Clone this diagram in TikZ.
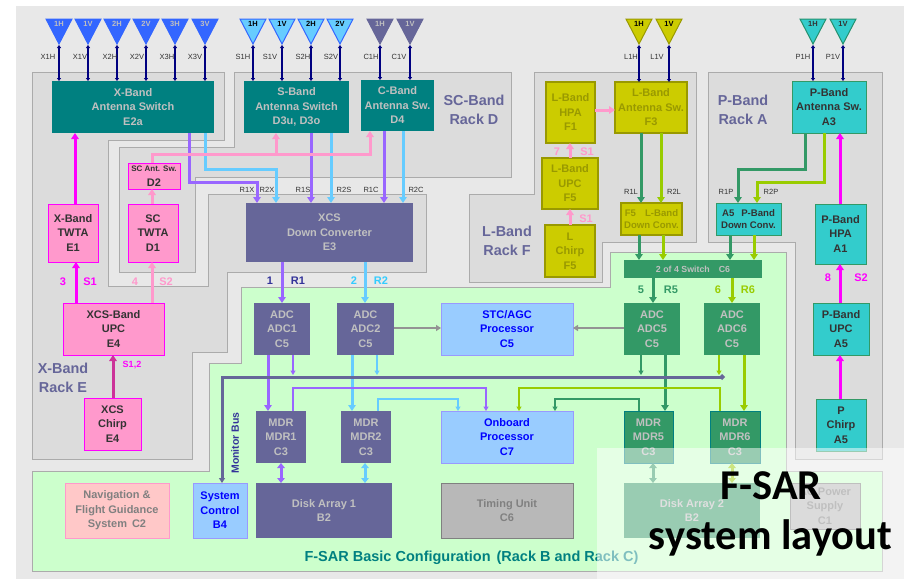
\documentclass[tikz,border=0pt]{standalone}
\usepackage{fontspec}
\setmainfont{Liberation Sans}
\newfontfamily\titlefont{Carlito}
\usetikzlibrary{arrows.meta}
\definecolor{cbg}{HTML}{E8E8E8}
\definecolor{crack}{HTML}{DCDCDC}
\definecolor{crackb}{HTML}{ABABAB}
\definecolor{cgreen}{HTML}{CCFFCC}
\definecolor{cteal}{HTML}{008080}
\definecolor{cgraytxt}{HTML}{C0C0C0}
\definecolor{cdark}{HTML}{333333}
\definecolor{cpink}{HTML}{FF99CC}
\definecolor{cmag}{HTML}{FF00FF}
\definecolor{cviolet}{HTML}{666699}
\definecolor{cpurp}{HTML}{9966FF}
\definecolor{ccyan}{HTML}{66CCFF}
\definecolor{cgrn}{HTML}{339966}
\definecolor{clime}{HTML}{99CC00}
\definecolor{colive}{HTML}{CCCC00}
\definecolor{coliveb}{HTML}{999900}
\definecolor{ctq}{HTML}{33CCCC}
\definecolor{cblue}{HTML}{99CCFF}
\definecolor{cblueb}{HTML}{9999FF}
\definecolor{cdeep}{HTML}{0000FF}
\definecolor{cantx}{HTML}{3366FF}
\definecolor{cgrayb}{HTML}{B8B8B8}
\definecolor{cgrayd}{HTML}{808080}
\definecolor{csalmon}{HTML}{FFC8C8}
\definecolor{cnavy}{HTML}{000080}
\definecolor{cchirp}{HTML}{CC3399}
\definecolor{cindigo}{HTML}{333399}
\definecolor{cskylab}{HTML}{33CCFF}
\tikzset{
  x=1pt,y=-1pt,
  boxbase/.style={inner sep=0pt,outer sep=0pt,align=center,font=\bfseries\fontsize{11}{14.5}\selectfont},
  tealbox/.style={boxbase,fill=cteal,text=cgraytxt},
  pinkbox/.style={boxbase,fill=cpink,draw=cmag,line width=1pt,text=cdark},
  olivebox/.style={boxbase,fill=colive,draw=coliveb,line width=1.2pt,text=coliveb},
  tqbox/.style={boxbase,fill=ctq,draw=cgrn,line width=1pt,text=cdark},
  violetbox/.style={boxbase,fill=cviolet,text=cgraytxt},
  grnbox/.style={boxbase,fill=cgrn,text=cgraytxt},
  grntealbox/.style={boxbase,fill=cgrn,draw=cteal,line width=.8pt,text=cgraytxt},
  bluebox/.style={boxbase,fill=cblue,draw=cblueb,line width=1pt,text=cdeep},
  graybox/.style={boxbase,fill=cgrayb,draw=cgrayd,line width=1pt,text=cgrayd},
  navbox/.style={boxbase,fill=csalmon,draw=cpink,line width=1pt,text=cgrayd},
  smallbox/.style={font=\bfseries\fontsize{9.6}{12}\selectfont},
  rack/.style={fill=crack,draw=crackb,line width=1pt},
  greenarea/.style={fill=cgreen,draw=crackb,line width=1pt},
  racklabel/.style={font=\bfseries\fontsize{14.4}{19}\selectfont,text=cviolet,align=center,inner sep=0pt},
  portlabel/.style={font=\fontsize{7.5}{9}\selectfont,text=cdark,inner sep=0pt},
  chanlabel/.style={font=\bfseries\fontsize{11}{13}\selectfont,inner sep=0pt},
  thick arrow/.style={line width=3pt,-{Triangle[length=6pt,width=7.5pt]}},
  thin arrow/.style={line width=1.6pt,-{Triangle[length=4.5pt,width=5pt]}},
  bi arrow/.style={line width=3pt,{Triangle[length=5pt,width=7.5pt]}-{Triangle[length=5pt,width=7.5pt]}},
  ant arrow/.style={line width=1.5pt,draw=cnavy,{Triangle[length=3pt,width=4pt]}-{Triangle[length=3pt,width=4pt]}},
  gray arrow/.style={line width=1.5pt,draw=cgrayd!85,-{Triangle[length=5pt,width=6pt]}},
}
% name, x1, y1, x2, y2, style, text
\newcommand\bx[7]{\node[#6,minimum width={#4-#2},minimum height={#5-#3}] (#1) at ({(#2+#4)/2},{(#3+#5)/2}) {#7};}
% name, centre x, fill, border, text colour, label
\newcommand\ant[6]{%
  \path[fill=#3,draw=#4,line width=1pt,line join=miter] (#2-13,19) -- (#2+13,19) -- (#2,44) -- cycle;
  \coordinate (#1) at (#2,45);
  \node[font=\bfseries\fontsize{7.5}{9}\selectfont,text=#5,inner sep=0pt] (#1t) at (#2,24) {#6};}
\newcommand\pl[3]{\node[portlabel] (pl#1) at (#2,#3) {#1};}
\begin{document}
\begin{tikzpicture}
\useasboundingbox (0,0) rectangle (904,579);
\fill[white] (0,0) rectangle (904,579);
\fill[cbg] (16,6) rectangle (904,579);
% racks
\path[rack] (32,72)--(224,72)--(224,140)--(108,140)--(108,286)--(208,286)--(208,194)--(426,194)--(426,272)--(227,272)--(227,352)--(192,352)--(192,459)--(32,459)--cycle;
\path[rack] (234,72)--(511,72)--(511,177)--(195,177)--(195,272)--(119,272)--(119,147)--(234,147)--cycle;
\path[rack] (534,72)--(696,72)--(696,242)--(602,242)--(602,282)--(469,282)--(469,194)--(534,194)--cycle;
\path[rack] (708,72)--(882,72)--(882,459)--(795,459)--(795,242)--(708,242)--cycle;
\path[greenarea] (241,287)--(610,287)--(610,252)--(786,252)--(786,471)--(882,471)--(882,571)--(32,571)--(32,471)--(209,471)--(209,363)--(241,363)--cycle;
% antennas
\ant{xa}{59}{cantx}{cantx}{cgraytxt}{1H}
\ant{xb}{88}{cantx}{cantx}{cgraytxt}{1V}
\ant{xc}{117}{cantx}{cantx}{cgraytxt}{2H}
\ant{xd}{146}{cantx}{cantx}{cgraytxt}{2V}
\ant{xe}{175}{cantx}{cantx}{cgraytxt}{3H}
\ant{xf}{205}{cantx}{cantx}{cgraytxt}{3V}
\ant{sa}{253}{ccyan}{cantx}{black}{1H}
\ant{sb}{282}{ccyan}{cantx}{black}{1V}
\ant{sc}{311}{ccyan}{cantx}{black}{2H}
\ant{sd}{340}{ccyan}{cantx}{black}{2V}
\ant{ca}{380}{cviolet}{cviolet}{cgraytxt}{1H}
\ant{cb}{410}{cviolet}{cviolet}{cgraytxt}{1V}
\ant{la}{639}{colive}{coliveb}{black}{1H}
\ant{lb}{669}{colive}{coliveb}{black}{1V}
\ant{pa}{813}{ctq}{cgrn!70!cteal}{cdark}{1H}
\ant{pb}{843}{ctq}{cgrn!70!cteal}{cdark}{1V}
% boxes
\bx{e2a}{52}{81}{214}{133}{tealbox}{X-Band\\Antenna Switch\\E2a}
\bx{d3}{244}{81}{349}{133}{tealbox}{S-Band\\Antenna Switch\\D3u, D3o}
\bx{d4}{361}{80}{434}{131}{tealbox}{C-Band\\Antenna Sw.\\D4}
\bx{d2}{128}{163}{180}{189}{pinkbox}{{\fontsize{8}{10}\selectfont SC Ant. Sw.}\\{\fontsize{11}{12}\selectfont D2}}
\bx{e1}{48}{204}{98}{262}{pinkbox}{X-Band\\TWTA\\E1}
\bx{d1}{128}{204}{178}{262}{pinkbox}{SC\\TWTA\\D1}
\bx{e4}{63}{303}{164}{355}{pinkbox}{XCS-Band\\UPC\\E4}
\bx{chirp}{84}{398}{141}{450}{pinkbox}{XCS\\Chirp\\E4}
\bx{e3}{246}{203}{413}{262}{violetbox}{XCS\\Down Converter\\E3}
\bx{f1}{546}{82}{595}{143}{olivebox}{L-Band\\HPA\\F1}
\bx{f3}{615}{82}{687}{133}{olivebox}{L-Band\\Antenna Sw.\\F3}
\bx{f5u}{542}{158}{598}{209}{olivebox}{L-Band\\UPC\\F5}
\bx{f5c}{545}{225}{595}{277}{olivebox}{L\\Chirp\\F5}
\bx{f5d}{621}{203}{682}{235}{olivebox,smallbox}{F5\hspace{9pt}L-Band\\Down Conv.}
\bx{a3}{792}{81}{866}{133}{tqbox}{P-Band\\Antenna Sw.\\A3}
\bx{a5d}{716}{203}{781}{235}{tqbox,smallbox}{A5\hspace{7pt}P-Band\\Down Conv.}
\bx{a1}{815}{204}{866}{264}{tqbox}{P-Band\\HPA\\A1}
\bx{a5u}{813}{303}{869}{355}{tqbox}{P-Band\\UPC\\A5}
\bx{a5c}{816}{399}{866}{451}{tqbox}{P\\Chirp\\A5}
\bx{sw}{624}{260}{762}{278}{grnbox,font=\bfseries\fontsize{8.8}{10}\selectfont}{2 of 4 Switch\hspace{9pt}C6}
\bx{adc1}{254}{303}{310}{355}{violetbox}{ADC\\ADC1\\C5}
\bx{adc2}{337}{303}{394}{355}{violetbox}{ADC\\ADC2\\C5}
\bx{stc}{441}{303}{573}{355}{bluebox}{STC/AGC\\Processor\\C5}
\bx{adc5}{624}{303}{680}{355}{grnbox}{ADC\\ADC5\\C5}
\bx{adc6}{704}{303}{760}{355}{grnbox}{ADC\\ADC6\\C5}
\bx{mdr1}{256}{411}{306}{463}{violetbox}{MDR\\MDR1\\C3}
\bx{mdr2}{341}{411}{391}{463}{violetbox}{MDR\\MDR2\\C3}
\bx{obp}{441}{411}{573}{463}{bluebox}{Onboard\\Processor\\C7}
\bx{mdr5}{624}{411}{673}{463}{grntealbox}{MDR\\MDR5\\C3}
\bx{mdr6}{710}{411}{760}{463}{grntealbox}{MDR\\MDR6\\C3}
\bx{nav}{65}{483}{169}{538}{navbox}{Navigation \&\\Flight Guidance\\System\hspace{5pt}C2}
\bx{sys}{193}{483}{247}{538}{bluebox}{System\\Control\\B4}
\bx{disk1}{256}{483}{392}{538}{violetbox}{Disk Array 1\\B2}
\bx{tim}{441}{483}{573}{538}{graybox}{Timing Unit\\C6}
\bx{disk2}{624}{483}{760}{538}{grnbox}{Disk Array 2\\B2}
\bx{pow}{790}{483}{860}{529}{graybox}{\rule{0pt}{0pt}\\[-6.5pt]AC Power\\Supply\\C1}
% antenna lines
\foreach \a/\b in {xa/e2a,xb/e2a,xc/e2a,xd/e2a,xe/e2a,xf/e2a,sa/d3,sb/d3,sc/d3,sd/d3,ca/d4,cb/d4,la/f3,lb/f3,pa/a3,pb/a3}
  \draw[ant arrow] (\a) -- (\a |- \b.north);
% X band receive
\draw[thick arrow,cpurp] (189,0 |- e2a.south) -- (189,182) -- (257,182) -- (257,0 |- e3.north);
\draw[thick arrow,ccyan] (205,0 |- e2a.south) -- (205,169) -- (276,169) -- (276,0 |- e3.north);
\draw[thick arrow,cpurp] (311,0 |- d3.south) -- (311,0 |- e3.north);
\draw[thick arrow,ccyan] (331,0 |- d3.south) -- (331,0 |- e3.north);
\draw[thick arrow,cpurp] (384,0 |- d4.south) -- (384,0 |- e3.north);
\draw[thick arrow,ccyan] (403,0 |- d4.south) -- (403,0 |- e3.north);
% transmit chain X / SC
\draw[thick arrow,cmag] (75,0 |- e1.north) -- (75,0 |- e2a.south);
\draw[thick arrow,cmag] (76,0 |- e4.north) -- (76,0 |- e1.south);
\draw[thick arrow,cpink] (152,0 |- e4.north) -- (152,0 |- d1.south);
\draw[thick arrow,cpink] (152,0 |- d1.north) -- (152,0 |- d2.south);
\draw[thick arrow,cchirp] (113,0 |- chirp.north) -- (113,0 |- e4.south);
\draw[thick arrow,cpink] (152,0 |- d2.north) -- (152,154) -- (370,154) -- (370,0 |- d4.south);
\draw[thick arrow,cpink] (276,154) -- (276,0 |- d3.south);
% L band
\draw[thick arrow,cpink] (570,0 |- f5c.north) -- (570,0 |- f5u.south);
\draw[thick arrow,cpink] (570,0 |- f5u.north) -- (570,0 |- f1.south);
\draw[thick arrow,cpink] (f1.east |- 0,110) -- (f3.west |- 0,110);
\draw[thick arrow,cgrn] (641,0 |- f3.south) -- (641,0 |- f5d.north);
\draw[thick arrow,clime] (661,0 |- f3.south) -- (661,0 |- f5d.north);
\draw[thick arrow,cgrn] (639,0 |- f5d.south) -- (639,0 |- sw.north);
\draw[thick arrow,clime] (663,0 |- f5d.south) -- (663,0 |- sw.north);
% P band
\draw[thick arrow,cgrn] (805,0 |- a3.south) -- (805,169) -- (738,169) -- (738,0 |- a5d.north);
\draw[thick arrow,clime] (824,0 |- a3.south) -- (824,182) -- (757,182) -- (757,0 |- a5d.north);
\draw[thick arrow,cgrn] (730,0 |- a5d.south) -- (730,0 |- sw.north);
\draw[thick arrow,clime] (754,0 |- a5d.south) -- (754,0 |- sw.north);
\draw[thick arrow,cmag] (840,0 |- a1.north) -- (840,0 |- a3.south);
\draw[thick arrow,cmag] (840,0 |- a5u.north) -- (840,0 |- a1.south);
\draw[thick arrow,cmag] (840,0 |- a5c.north) -- (840,0 |- a5u.south);
% to ADCs
\draw[thick arrow,cpurp] (282,0 |- e3.south) -- (282,0 |- adc1.north);
\draw[thick arrow,ccyan] (365,0 |- e3.south) -- (365,0 |- adc2.north);
\draw[thick arrow,cgrn] (653,0 |- sw.south) -- (653,0 |- adc5.north);
\draw[thick arrow,clime] (732,0 |- sw.south) -- (732,0 |- adc6.north);
% STC
\draw[gray arrow] (adc2.east |- 0,328) -- (stc.west |- 0,328);
\draw[gray arrow] (adc5.west |- 0,328) -- (stc.east |- 0,328);
% ADC to MDR
\draw[thick arrow,cpurp] (268,0 |- adc1.south) -- (268,0 |- mdr1.north);
\draw[thick arrow,ccyan] (352,0 |- adc2.south) -- (352,0 |- mdr2.north);
\draw[thick arrow,cgrn] (665,0 |- adc5.south) -- (665,0 |- mdr5.north);
\draw[thick arrow,clime] (744,0 |- adc6.south) -- (744,0 |- mdr6.north);
% monitor bus
\draw[line width=3pt,cviolet,-{Triangle[length=5pt,width=6pt]}] (722,377) -- (222,377) -- (222,0 |- sys.north);
\fill[cviolet] (722,374) -- (725,377) -- (722,380) -- (719,377) -- cycle;
\draw[thin arrow,cpurp] (293,0 |- adc1.south) -- (293,375);
\draw[thin arrow,ccyan] (377,0 |- adc2.south) -- (377,375);
\draw[thin arrow,cgrn] (641,0 |- adc5.south) -- (641,375);
\draw[thin arrow,clime] (719,0 |- adc6.south) -- (719,375);
% MDR to onboard processor
\draw[thin arrow,cpurp] (293,0 |- mdr1.north) -- (293,388) -- (486,388) -- (486,0 |- obp.north);
\draw[thin arrow,ccyan] (378,0 |- mdr2.north) -- (378,399) -- (458,399) -- (458,0 |- obp.north);
\draw[thin arrow,clime] (720,0 |- mdr6.north) -- (720,388) -- (519,388) -- (519,0 |- obp.north);
\draw[thin arrow,cgrn] (639,0 |- mdr5.north) -- (639,399) -- (555,399) -- (555,0 |- obp.north);
% MDR to disk
\draw[bi arrow,cpurp] (281,0 |- mdr1.south) -- (281,0 |- disk1.north);
\draw[bi arrow,ccyan] (365,0 |- mdr2.south) -- (365,0 |- disk1.north);
\draw[bi arrow,cgrn] (653,0 |- mdr5.south) -- (653,0 |- disk2.north);
\draw[bi arrow,clime] (732,0 |- mdr6.south) -- (732,0 |- disk2.north);
% port labels
\pl{X1H}{48}{57}\pl{X1V}{80}{57}\pl{X2H}{110}{57}\pl{X2V}{137}{57}\pl{X3H}{167}{57}\pl{X3V}{195}{57}
\pl{S1H}{243}{57}\pl{S1V}{270}{57}\pl{S2H}{303}{57}\pl{S2V}{331}{57}
\pl{C1H}{371}{57}\pl{C1V}{399}{57}\pl{L1H}{631}{57}\pl{L1V}{657}{57}\pl{P1H}{803}{57}\pl{P1V}{833}{57}
\pl{R1X}{247}{190}\pl{R2X}{267}{190}\pl{R1S}{303}{190}\pl{R2S}{344}{190}\pl{R1C}{371}{190}\pl{R2C}{416}{190}
\pl{R1L}{631}{192}\pl{R2L}{674}{192}\pl{R1P}{726}{192}\pl{R2P}{771}{192}
% channel labels
\node[chanlabel,text=cmag] (l3) at (63,282) {3};
\node[chanlabel,text=cmag] (ls1a) at (90,282) {S1};
\node[chanlabel,text=cpink] (l4) at (135,282) {4};
\node[chanlabel,text=cpink] (ls2a) at (166,282) {S2};
\node[chanlabel,text=cmag,font=\bfseries\fontsize{9}{11}\selectfont] (ls12) at (132,365) {S1,2};
\node[chanlabel,text=cindigo] (l1) at (270,281) {1};
\node[chanlabel,text=cindigo] (lr1) at (298,281) {R1};
\node[chanlabel,text=cskylab] (l2) at (354,281) {2};
\node[chanlabel,text=cskylab] (lr2) at (381,281) {R2};
\node[chanlabel,text=cgrn] (l5) at (641,290) {5};
\node[chanlabel,text=cgrn] (lr5) at (671,290) {R5};
\node[chanlabel,text=clime] (l6) at (718,290) {6};
\node[chanlabel,text=clime] (lr6) at (748,290) {R6};
\node[chanlabel,text=cpink] (l7) at (557,152) {7};
\node[chanlabel,text=cpink] (ls1b) at (587,152) {S1};
\node[chanlabel,text=cpink] (ls1c) at (586,219) {S1};
\node[chanlabel,text=cmag] (l8) at (828,278) {8};
\node[chanlabel,text=cmag] (ls2b) at (861,278) {S2};
% rack labels
\node[racklabel] (rd) at (474,109.5) {SC-Band\\Rack D};
\node[racklabel] (re) at (63,377.5) {X-Band\\Rack E};
\node[racklabel] (rf) at (507,240.5) {L-Band\\Rack F};
\node[racklabel] (ra) at (743,109.5) {P-Band\\Rack A};
\node[inner sep=0pt,rotate=90,font=\bfseries\fontsize{10.5}{12}\selectfont,text=cindigo] (mb) at (235,443) {Monitor Bus};
\node[inner sep=0pt,font=\bfseries\fontsize{14.5}{16}\selectfont,text=cteal] (cfg) at (471.5,558) {F-SAR Basic Configuration\hspace{6pt}(Rack B and Rack C)};
% overlay and title
\fill[white,opacity=.5] (597,448) rectangle (904,579);
\node[inner sep=0pt,anchor=base,font=\titlefont\bfseries\fontsize{42.5}{44}\selectfont,text=black] (t1) at (771,499) {F-SAR};
\node[inner sep=0pt,anchor=base,font=\titlefont\bfseries\fontsize{42.5}{44}\selectfont,text=black] (t2) at (770.5,549) {system layout};
\end{tikzpicture}
\end{document}
